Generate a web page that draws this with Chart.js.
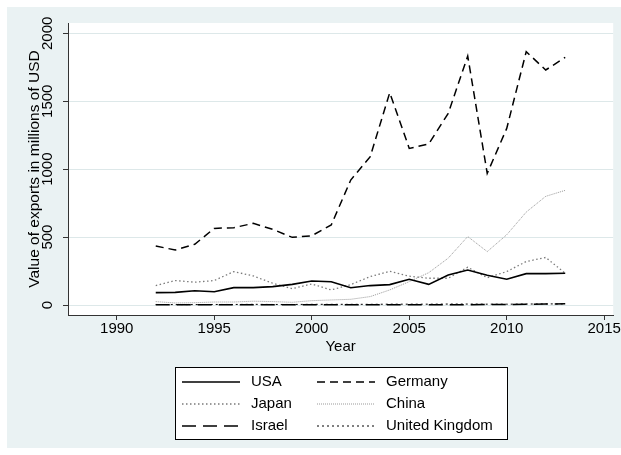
<!DOCTYPE html>
<html>
<head>
<meta charset="utf-8">
<script src="https://cdn.jsdelivr.net/npm/chart.js@4"></script>
<style>
  html, body { margin: 0; padding: 0; background: #fff; }
</style>
</head>
<body>
<canvas id="myChart" width="621" height="455"></canvas>
<script>
// años y valores (millones de USD)
var years = [1992, 1993, 1994, 1995, 1996, 1997, 1998, 1999, 2000, 2001, 2002,
             2003, 2004, 2005, 2006, 2007, 2008, 2009, 2010, 2011, 2012, 2013];
var usa     = [91, 93, 105, 98, 128, 128, 135, 152, 177, 171, 127, 143, 150, 189, 152, 221, 258, 219, 190, 231, 231, 234];
var germany = [434, 405, 447, 564, 569, 601, 557, 498, 510, 589, 920, 1092, 1563, 1153, 1185, 1411, 1833, 969, 1300, 1865, 1730, 1823];
var japan   = [143, 180, 168, 180, 246, 214, 160, 120, 155, 111, 150, 209, 248, 212, 197, 197, 278, 201, 246, 320, 350, 234];
var china   = [25, 15, 17, 22, 22, 28, 25, 20, 32, 37, 42, 62, 111, 172, 238, 345, 504, 393, 517, 684, 800, 844];
var israel  = [1, 1, 1, 1, 1, 1, 1, 1, 1, 1, 1, 1, 1, 2, 2, 2, 2, 3, 4, 5, 7, 9];
var uk      = [4, 3, 3, 4, 4, 5, 4, 4, 5, 5, 5, 5, 6, 6, 6, 7, 7, 6, 6, 7, 8, 8];

var xTicks = [1990, 1995, 2000, 2005, 2010, 2015];
var yTicks = [0, 500, 1000, 1500, 2000];

function puntos(vals) {
  return years.map(function (y, i) { return { x: y, y: vals[i] }; });
}

var FONT = '"Liberation Sans", Arial, sans-serif';

// fondo estilo Stata
var fondo = {
  id: 'fondo',
  beforeDraw: function (chart) {
    var c = chart.ctx, a = chart.chartArea;
    c.save();
    c.fillStyle = '#fff';
    c.fillRect(0, 0, chart.width, chart.height);
    c.fillStyle = '#eaf2f3';
    c.fillRect(7, 7, chart.width - 7, 441);
    c.fillStyle = '#fff';
    c.fillRect(a.left, a.top, a.right - a.left, a.bottom - a.top);
    c.restore();
  }
};

// leyenda en dos columnas con recuadro
var leyenda = {
  id: 'leyenda',
  afterDraw: function (chart) {
    var c = chart.ctx;
    c.save();
    c.fillStyle = '#fff';
    c.fillRect(175.5, 367.5, 332, 72);
    c.strokeStyle = '#000';
    c.lineWidth = 1;
    c.strokeRect(175.5, 367.5, 332, 72);
    c.font = '15px ' + FONT;
    c.textBaseline = 'middle';
    chart.data.datasets.forEach(function (ds, i) {
      var col = i % 2, row = Math.floor(i / 2);
      var x0 = col ? 317 : 182;
      var y = 382 + row * 22;
      c.beginPath();
      c.setLineDash(ds.borderDash || []);
      c.strokeStyle = ds.borderColor;
      c.lineWidth = ds.borderWidth;
      c.moveTo(x0, y);
      c.lineTo(x0 + 58, y);
      c.stroke();
      c.setLineDash([]);
      c.fillStyle = '#000';
      c.fillText(ds.label, x0 + 69, y);
    });
    c.restore();
  }
};

function serie(label, vals, color, width, dash) {
  return {
    label: label,
    data: puntos(vals),
    borderColor: color,
    borderWidth: width,
    borderDash: dash,
    pointRadius: 0,
    fill: false,
    tension: 0
  };
}

var ctx = document.getElementById('myChart').getContext('2d');
var myChart = new Chart(ctx, {
  type: 'line',
  data: {
    datasets: [
      serie('USA', usa, '#000', 1.6, []),
      serie('Germany', germany, '#000', 1.5, [8, 5]),
      serie('Japan', japan, '#7a7a7a', 1.3, [1.5, 2.5]),
      serie('China', china, '#999', 1, [1, 1]),
      serie('Israel', israel, '#000', 1.5, [14, 7]),
      serie('United Kingdom', uk, '#000', 1, [2, 3])
    ]
  },
  options: {
    responsive: false,
    animation: false,
    layout: { padding: { left: 21, top: 23, right: 6, bottom: 96 } },
    plugins: {
      legend: { display: false },
      tooltip: { enabled: false }
    },
    scales: {
      x: {
        type: 'linear',
        min: 1987.5,
        max: 2015.46,
        afterBuildTicks: function (s) {
          s.ticks = xTicks.map(function (v) { return { value: v }; });
        },
        afterFit: function (s) { s.height = 44; },
        ticks: {
          color: '#000',
          font: { size: 15, family: FONT },
          padding: 0,
          maxRotation: 0,
          autoSkip: false,
          callback: function (v) { return String(v); }
        },
        grid: { drawOnChartArea: false, tickLength: 5, tickColor: '#333', lineWidth: 1 },
        border: { display: true, color: '#333', width: 1 },
        title: {
          display: true,
          text: 'Year',
          color: '#000',
          font: { size: 15, family: FONT },
          padding: { top: 4, bottom: 3 }
        }
      },
      y: {
        min: -73.6,
        max: 2076,
        afterBuildTicks: function (s) {
          s.ticks = yTicks.map(function (v) { return { value: v }; });
        },
        afterFit: function (s) { s.width = 47; },
        ticks: {
          color: '#000',
          font: { size: 15, family: FONT },
          padding: -2,
          minRotation: 90,
          maxRotation: 90,
          crossAlign: 'center',
          autoSkip: false,
          callback: function (v) { return String(v); }
        },
        grid: { color: '#dde8e9', tickLength: 5, tickColor: '#333', lineWidth: 1 },
        border: { display: true, color: '#333', width: 1 },
        title: {
          display: true,
          text: 'Value of exports in millions of USD',
          color: '#000',
          font: { size: 15.5, family: FONT },
          padding: { top: 4, bottom: 4 }
        }
      }
    }
  },
  plugins: [fondo, leyenda]
});
</script>
</body>
</html>
